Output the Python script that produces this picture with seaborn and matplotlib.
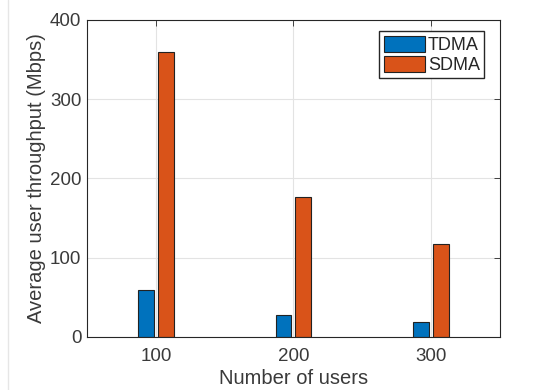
import matplotlib
matplotlib.use('Agg')
import matplotlib.pyplot as plt
import seaborn as sns
import pandas as pd
from matplotlib.lines import Line2D

# ── Data ─────────────────────────────────────────────────────────────
users = [100, 200, 300]
tdma = [59, 28, 19]
sdma = [359, 177, 117]
schemes = ['TDMA', 'SDMA']
PALETTE = {'TDMA': '#0072BD', 'SDMA': '#D95319'}

df = pd.DataFrame({
    'users': users * 2,
    'throughput': tdma + sdma,
    'scheme': ['TDMA'] * len(users) + ['SDMA'] * len(users),
})

sns.set_style('white')
plt.rcParams['font.family'] = ['Liberation Sans', 'DejaVu Sans']
TXT = '#3a3a3a'

fig = plt.figure(figsize=(5.37, 3.90), dpi=100)
ax = fig.add_axes([0.162, 0.136, 0.769, 0.813])

sns.barplot(data=df, x='users', y='throughput', hue='scheme', hue_order=schemes,
            palette=PALETTE, native_scale=True, width=0.29, gap=0.2,
            edgecolor='#222222', linewidth=0.8, saturation=1, ax=ax)

ax.set_xlim(50, 350)
ax.set_ylim(0, 400)
ax.set_xticks(users)
ax.set_yticks([0, 100, 200, 300, 400])
ax.grid(True, color='#e3e3e3', linewidth=0.8)
ax.set_axisbelow(True)

for side in ax.spines.values():
    side.set_color('#262626')
    side.set_linewidth(0.8)
ax.tick_params(direction='in', length=4, width=0.6, colors='#262626',
               labelcolor=TXT, labelsize=13.5, top=True, right=True)
ax.tick_params(axis='x', pad=8)
ax.tick_params(axis='y', pad=4)

ax.set_xlabel('Number of users', fontsize=14.5, color=TXT, labelpad=3)
ax.set_ylabel('Average user throughput (Mbps)', fontsize=14.5, color=TXT, labelpad=3)

ax.legend(loc='upper right', bbox_to_anchor=(0.962, 0.965), fontsize=13,
          frameon=True, fancybox=False, edgecolor='#262626', framealpha=1,
          handlelength=2.3, handleheight=1.0, handletextpad=0.15,
          borderpad=0.25, labelspacing=0.1, borderaxespad=0)

# faint screenshot border line on the left
fig.add_artist(Line2D([8 / 537, 8 / 537], [0, 1], color='#e6e6e6', linewidth=1))

fig.savefig('out.png', dpi=100)
